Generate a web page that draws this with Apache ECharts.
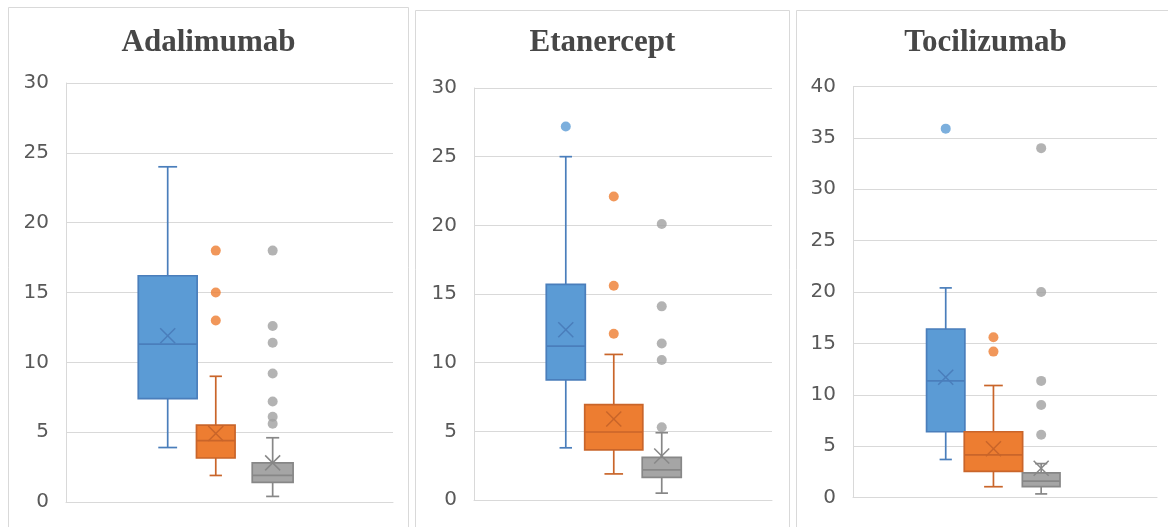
<!DOCTYPE html>
<html><head><meta charset="utf-8">
<script src="https://cdn.jsdelivr.net/npm/echarts@6/dist/echarts.min.js"></script>
<style>html,body{margin:0;padding:0;background:#fff}#chart{width:1168px;height:527px}</style>
</head><body><div id="chart"></div>
<script>
// ---------- data ----------
const drugTitles = ['Adalimumab', 'Etanercept', 'Tocilizumab'];
const yAxisMax = [30, 30, 40];
const yAxisStep = [5, 5, 5];
// box stats per group (blue, orange, grey): [lower whisker, Q1, median, Q3, upper whisker]
const adalimumabBoxes = [[3.9, 7.4, 11.3, 16.2, 24.0], [1.9, 3.15, 4.4, 5.5, 9.0], [0.4, 1.4, 1.9, 2.8, 4.6]];
const adalimumabMeans = [11.9, 4.9, 2.8];
const adalimumabOutliers = [[], [13, 15, 18], [5.6, 6.1, 7.2, 9.2, 11.4, 12.6, 18]];
const etanerceptBoxes = [[3.8, 8.75, 11.2, 15.7, 25.0], [1.9, 3.65, 4.95, 6.95, 10.6], [0.5, 1.65, 2.2, 3.1, 4.9]];
const etanerceptMeans = [12.4, 5.9, 3.2];
const etanerceptOutliers = [[27.2], [12.1, 15.6, 22.1], [5.3, 10.2, 11.4, 14.1, 20.1]];
const tocilizumabBoxes = [[3.7, 6.4, 11.35, 16.4, 20.4], [1.05, 2.55, 4.15, 6.4, 10.9], [0.35, 1.05, 1.6, 2.4, 3.3]];
const tocilizumabMeans = [11.7, 4.75, 2.85];
const tocilizumabOutliers = [[35.9], [14.2, 15.6], [6.1, 9.0, 11.35, 20.0, 34.0]];

const allBoxes = [adalimumabBoxes, etanerceptBoxes, tocilizumabBoxes];
const allMeans = [adalimumabMeans, etanerceptMeans, tocilizumabMeans];
const allOutliers = [adalimumabOutliers, etanerceptOutliers, tocilizumabOutliers];

// ---------- layout & style ----------
const groupStyle = [
  { fill: '#5B9BD5', line: '#4A7EBB', dot: '#5B9BD5' },
  { fill: '#ED7D31', line: '#C9652A', dot: '#ED7D31' },
  { fill: '#A5A5A5', line: '#878787', dot: '#A0A0A0' }
];
const panels = [
  { frame: [8.5, 7.5, 400, 540], grid: { left: 66, top: 83, width: 327, height: 419 }, titleX: 208.5,
    centers: [0.311, 0.458, 0.632], widths: [0.18, 0.118, 0.125] },
  { frame: [415.5, 10.5, 374, 540], grid: { left: 474, top: 88, width: 298, height: 412 }, titleX: 602.5,
    centers: [0.308, 0.469, 0.630], widths: [0.131, 0.195, 0.131] },
  { frame: [796.5, 10.5, 400, 540], grid: { left: 853, top: 86.5, width: 304, height: 411 }, titleX: 985.5,
    centers: [0.305, 0.462, 0.619], widths: [0.126, 0.192, 0.124] }
];
const titleY = 43;

function boxRenderer(p) {
  return function (params, api) {
    const k = api.value(0);
    const st = groupStyle[k];
    const cx = p.centers[k];
    const c = v => api.coord([cx, v]);
    const w = api.size([p.widths[k], 0])[0];
    const capW = w * 0.32;
    const lo = c(api.value(1)), q1 = c(api.value(2)), md = c(api.value(3)),
          q3 = c(api.value(4)), hi = c(api.value(5)), mn = c(api.value(6));
    const x = lo[0];
    const ls = { stroke: st.line, lineWidth: 1.7 };
    const m = 7.5;
    return {
      type: 'group',
      children: [
        { type: 'line', shape: { x1: x, y1: hi[1], x2: x, y2: q3[1] }, style: ls },
        { type: 'line', shape: { x1: x, y1: q1[1], x2: x, y2: lo[1] }, style: ls },
        { type: 'line', shape: { x1: x - capW / 2, y1: hi[1], x2: x + capW / 2, y2: hi[1] }, style: ls },
        { type: 'line', shape: { x1: x - capW / 2, y1: lo[1], x2: x + capW / 2, y2: lo[1] }, style: ls },
        { type: 'rect', shape: { x: x - w / 2, y: q3[1], width: w, height: q1[1] - q3[1] },
          style: { fill: st.fill, stroke: st.line, lineWidth: 1.7 } },
        { type: 'line', shape: { x1: x - w / 2, y1: md[1], x2: x + w / 2, y2: md[1] }, style: ls },
        { type: 'line', shape: { x1: x - m, y1: mn[1] - m, x2: x + m, y2: mn[1] + m }, style: { stroke: st.line, lineWidth: 1.5 } },
        { type: 'line', shape: { x1: x - m, y1: mn[1] + m, x2: x + m, y2: mn[1] - m }, style: { stroke: st.line, lineWidth: 1.5 } }
      ]
    };
  };
}

const grid = [], xAxis = [], yAxis = [], series = [], graphic = [];
panels.forEach((p, i) => {
  grid.push(Object.assign({}, p.grid));
  xAxis.push({ type: 'value', gridIndex: i, min: 0, max: 1,
    axisLine: { show: true, lineStyle: { color: '#D9D9D9', width: 1 } },
    axisTick: { show: false }, axisLabel: { show: false }, splitLine: { show: false } });
  yAxis.push({ type: 'value', gridIndex: i, min: 0, max: yAxisMax[i], interval: yAxisStep[i],
    axisLine: { show: true, lineStyle: { color: '#D9D9D9', width: 1 } },
    axisTick: { show: false },
    axisLabel: { color: '#595959', fontSize: 20, fontFamily: 'DejaVu Sans', margin: 17, padding: [3, 0, 0, 0] },
    splitLine: { show: true, lineStyle: { color: '#D9D9D9', width: 1.2 } } });
  series.push({
    type: 'custom', xAxisIndex: i, yAxisIndex: i, z: 3,
    renderItem: boxRenderer(p),
    encode: { x: -1, y: [1, 2, 3, 4, 5, 6] },
    data: allBoxes[i].map((b, k) => [k].concat(b, [allMeans[i][k]]))
  });
  allOutliers[i].forEach((vals, k) => {
    series.push({
      type: 'scatter', xAxisIndex: i, yAxisIndex: i, z: 4,
      symbol: 'circle', symbolSize: 10,
      itemStyle: { color: groupStyle[k].dot },
      data: vals.map(v => [p.centers[k], v])
    });
  });
  graphic.push({ type: 'rect', z: 0, silent: true,
    shape: { x: p.frame[0], y: p.frame[1], width: p.frame[2], height: p.frame[3] },
    style: { fill: 'none', stroke: '#D9D9D9', lineWidth: 1 } });
  graphic.push({ type: 'text', z: 5, silent: true, x: p.titleX, y: titleY,
    style: { text: drugTitles[i], fill: '#474747', font: 'bold 31px "Liberation Serif"',
      textAlign: 'center', textVerticalAlign: 'middle' } });
});

const chart = echarts.init(document.getElementById('chart'), null, { renderer: 'canvas' });
chart.setOption({ animation: false, backgroundColor: '#fff', grid, xAxis, yAxis, series, graphic });
</script>
</body></html>
